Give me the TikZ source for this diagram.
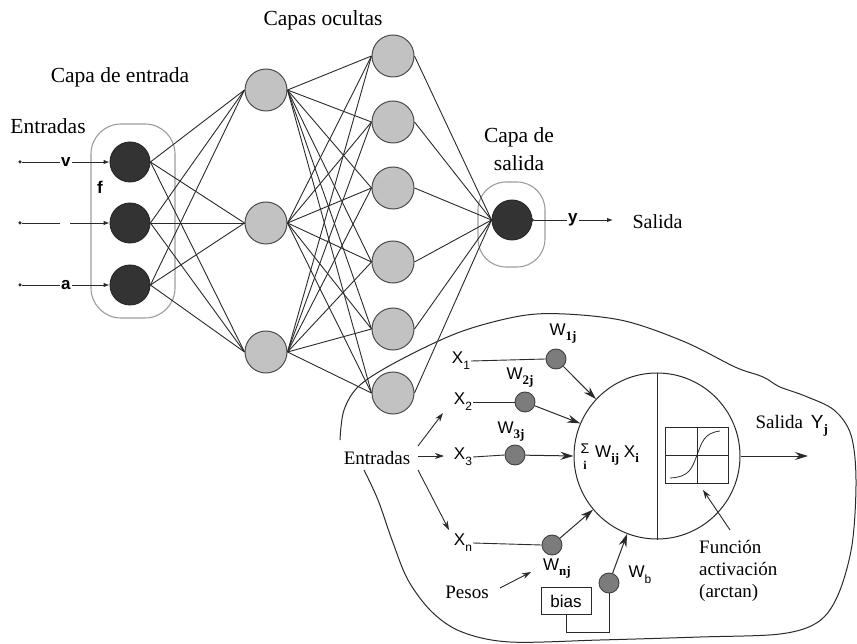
\documentclass[tikz,border=0pt]{standalone}
\usepackage{fontspec}
\newfontfamily\tnr{LiberationSerif}[Extension=.ttf, UprightFont=*-Regular, BoldFont=*-Bold]
\newfontfamily\arl{Liberation Sans}
\usetikzlibrary{arrows.meta}
\definecolor{dk}{HTML}{333333}
\definecolor{lg}{HTML}{C2C2C2}
\definecolor{mg}{HTML}{7C7C7C}
\definecolor{grp}{HTML}{9C9C9C}
\definecolor{ln}{HTML}{2A2A2A}
\newcommand{\bsub}[1]{\raisebox{-5pt}{\tnr\bfseries\fontsize{13}{13}\selectfont #1}}
\newcommand{\ssub}[1]{\raisebox{-6pt}{\arl\fontsize{12}{12}\selectfont #1}}
\begin{document}
\begin{tikzpicture}[x=1pt,y=-1pt,
  inn/.style={circle, draw=black!85, fill=dk, minimum size=40pt, inner sep=0pt, line width=0.9pt},
  hid/.style={circle, draw=black!70, fill=lg, minimum size=42pt, inner sep=0pt, line width=1pt},
  wgt/.style={circle, draw=black!75, fill=mg, minimum size=20pt, inner sep=0pt, line width=0.9pt},
  dot/.style={circle, fill=ln, minimum size=3.5pt, inner sep=0pt},
  conn/.style={draw=ln, line width=0.9pt},
  grpline/.style={draw=grp, line width=1.1pt},
  lab/.style={font=\tnr\fontsize{21.5}{28}\selectfont},
  ilab/.style={font=\tnr\fontsize{19}{22}\selectfont},
  sl/.style={font=\arl\fontsize{17}{18}\selectfont, inner sep=1pt},
  sb/.style={font=\arl\bfseries\fontsize{17}{18}\selectfont},
  sarr/.style={conn, -{Latex[length=6pt,width=4.5pt]}},
  marr/.style={draw=ln, line width=0.9pt, -{Stealth[length=9pt,width=6pt]}},
  barr/.style={draw=ln, line width=1pt, -{Stealth[length=13pt,width=8pt]}}
]
\useasboundingbox (0,0) rectangle (857,644);

% ---------- group outlines ----------
\draw[grpline, rounded corners=30pt] (91,124) rectangle (175,318);
\draw[grpline, rounded corners=28pt] (478,182) rectangle (545,267);

% ---------- network nodes ----------
\node[inn] (i1) at (130,162) {};
\node[inn] (i2) at (130,223) {};
\node[inn] (i3) at (130,285) {};
\foreach \y [count=\k] in {90,223,352} \node[hid] (h\k) at (266,\y) {};
\foreach \y [count=\k] in {56,122,188,262,329,393} \node[hid] (g\k) at (393,\y) {};
\node[inn] (o) at (512,220) {};

\foreach \a in {1,2,3} \foreach \b in {1,2,3} \draw[conn] (i\a.east) -- (h\b.west);
\foreach \a in {1,2,3} \foreach \b in {1,...,6} \draw[conn] (h\a.east) -- (g\b.west);
\foreach \b in {1,...,6} \draw[conn] (g\b.east) -- (o.west);

% ---------- labels ----------
\node[lab] (tocul) at (323,20) {Capas ocultas};
\node[lab] (tent) at (120,77) {Capa de entrada};
\node[lab] (tentr) at (48,126) {Entradas};
\node[lab, align=center] (tsal) at (519,149) {Capa de\\salida};
\node[lab, anchor=west, font=\tnr\fontsize{20}{24}\selectfont] (tsalida) at (629,222) {Salida};

% ---------- inputs ----------
\node[dot] (d1) at (20,162) {};
\node[dot] (d2) at (20,223) {};
\node[dot] (d3) at (20,285) {};
\coordinate (gl) at (60,223);
\coordinate (gr) at (70,223);
\draw[sarr] (d1) -- node[sb, fill=white, inner sep=1.5pt] {v} (i1.west);
\draw[conn] (d2) -- (gl);
\draw[sarr] (gr) -- (i2.west);
\draw[sarr] (d3) -- node[sb, fill=white, inner sep=1.5pt] {a} (i3.west);
\node[sb] (fl) at (100,187) {f};

% ---------- output ----------
\node[dot] (od) at (o.east) {};
\coordinate (oend) at (613,220);
\draw[sarr] (od) -- node[sb, fill=white, inner sep=1.5pt, pos=0.49] {y} (oend);

% ---------- inset blob ----------
\draw[draw=ln, line width=1pt] plot[smooth, tension=0.55] coordinates {
 (340,440) (344,410) (360,385) (400,360) (460,332) (520,316) (565,314)
 (625,321) (685,342) (735,367) (758,375) (767,379) (780,387) (805,396)
 (834,410) (851,435) (856,480) (852,545) (838,595) (818,622) (780,634)
 (700,637) (600,640) (510,642) (462,632) (432,612) (408,580) (392,540)
 (378,500) (364,470)};

% ---------- neuron ----------
\node[circle, draw=ln, line width=1pt, minimum size=166pt, inner sep=0pt] (neu) at (657,456) {};
\draw[draw=ln, line width=1pt] (neu.north) -- (neu.south);
% activation box
\draw[draw=ln, line width=1pt] (665,427) rectangle (728,483);
\draw[draw=ln, line width=0.9pt] (697,427) -- (697,483);
\draw[draw=ln, line width=0.9pt] (665,455) -- (728,455);
\draw[draw=ln, line width=0.8pt] (670,478) .. controls (690,477) and (692,468) .. (697,455)
  .. controls (702,442) and (704,433) .. (720,431);
% sum text
\node[font=\arl\fontsize{14}{14}\selectfont, inner sep=0pt] (sig) at (585,449) {Σ};
\node[font=\tnr\bfseries\fontsize{12}{12}\selectfont, inner sep=0pt] (sigi) at (585,465) {i};
\node[sl, anchor=west] (sumw) at (594,456) {W\bsub{ij} X\bsub{i}};

% output of neuron
\coordinate (yend) at (808,456);
\draw[barr] (neu.east) -- (yend);
\node[ilab, anchor=west] (saly) at (752,426) {Salida\, {\arl Y}\bsub{j}};

% funcion activacion
\node[ilab, align=left, anchor=north west, inner sep=0pt] (fun) at (699,540) {Función\\activación\\(arctan)};
\coordinate (fa1) at (730,530);
\coordinate (fa2) at (703,490);
\draw[marr] (fa1) -- (fa2);

% inputs X
\node[sl] (x1) at (461,361) {X\ssub{1}};
\node[sl] (x2) at (463,402) {X\ssub{2}};
\node[sl] (x3) at (463,457) {X\ssub{3}};
\node[sl] (xn) at (463,543) {X\ssub{n}};

\node[wgt] (w1) at (556,359) {};
\node[wgt] (w2) at (525,402) {};
\node[wgt] (w3) at (515,455) {};
\node[wgt] (wn) at (552,545) {};
\node[wgt] (wb) at (609,583) {};

\draw[conn] (x1.east) -- (w1.west);
\draw[conn] (x2.east) -- (w2.west);
\draw[conn] (x3.east) -- (w3.west);
\draw[conn] (xn.east) -- (wn.west);

\draw[barr] (w1) -- (neu.137);
\draw[barr] (w2) -- (neu.157);
\draw[barr] (w3) -- (neu.180);
\draw[barr] (wn) -- (neu.220);
\draw[barr] (wb) -- (neu.249);

\node[sl] (lw1) at (563,334) {W\bsub{1j}};
\node[sl] (lw2) at (520,378) {W\bsub{2j}};
\node[sl] (lw3) at (511,432) {W\bsub{3j}};
\node[sl] (lwn) at (557,569) {W\bsub{nj}};
\node[sl] (lwb) at (640,575) {W\ssub{b}};

% Entradas inset
\node[ilab] (ent) at (377,458) {Entradas};
\coordinate (e2a) at (418,446);
\coordinate (e2b) at (443,413);
\coordinate (e3a) at (418,456);
\coordinate (e3b) at (444,456);
\coordinate (ena) at (418,470);
\coordinate (enb) at (449,530);
\draw[marr] (e2a) -- (e2b);
\draw[marr] (e3a) -- (e3b);
\draw[marr] (ena) -- (enb);

% Pesos
\node[ilab] (pes) at (467,592) {Pesos};
\coordinate (pa) at (500,588);
\coordinate (pb) at (531,572);
\draw[marr] (pa) -- (pb);

% bias
\node[draw=ln, line width=1pt, minimum width=50pt, minimum height=27pt, inner sep=0pt,
      font=\arl\fontsize{17}{18}\selectfont] (bias) at (566,601) {bias};
\coordinate (bc1) at (566,632);
\coordinate (bc2) at (609,632);
\draw[conn] (bias.south) -- (bc1) -- (bc2) -- (wb.south);
\end{tikzpicture}
\end{document}
